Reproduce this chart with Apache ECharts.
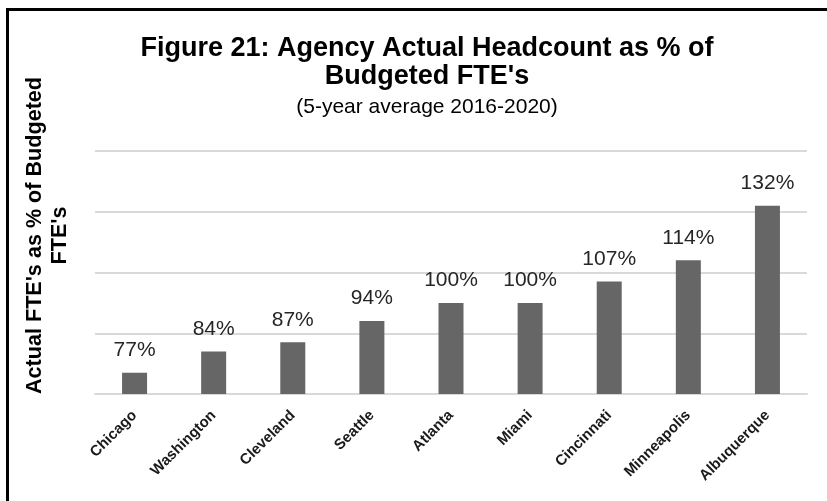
<!DOCTYPE html>
<html>
<head>
<meta charset="utf-8">
<script src="https://cdn.jsdelivr.net/npm/echarts@6/dist/echarts.min.js"></script>
<style>
  html, body { margin: 0; padding: 0; background: #fff; }
  #chart { width: 827px; height: 501px; }
</style>
</head>
<body>
<div id="chart"></div>
<script>
// Agencies and their 5-year average actual headcount as % of budgeted FTEs
const agencies = ['Chicago', 'Washington', 'Cleveland', 'Seattle', 'Atlanta', 'Miami', 'Cincinnati', 'Minneapolis', 'Albuquerque'];
const headcountPct = [77, 84, 87, 94, 100, 100, 107, 114, 132];

// Value axis range (gridlines every 20 points starting at 70)
const axisMin = 70;
const axisMax = 150;
const axisStep = 20;

const FONT = '"Liberation Sans", Arial, sans-serif';

const chart = echarts.init(document.getElementById('chart'), null, { renderer: 'canvas' });

chart.setOption({
  backgroundColor: '#ffffff',
  animation: false,
  title: {
    text: 'Figure 21: Agency Actual Headcount as % of\nBudgeted FTE\'s',
    subtext: '(5-year average 2016-2020)',
    left: 422,
    textAlign: 'center',
    top: 30,
    itemGap: 6,
    textStyle: {
      fontFamily: FONT,
      fontSize: 27,
      fontWeight: 'bold',
      color: '#000000',
      lineHeight: 28
    },
    subtextStyle: {
      fontFamily: FONT,
      fontSize: 21,
      color: '#000000',
      lineHeight: 21
    }
  },
  graphic: [{
    type: 'rect',
    silent: true,
    shape: { x: 7.5, y: 9.5, width: 900, height: 600 },
    style: { fill: 'none', stroke: '#000000', lineWidth: 3 }
  }],
  grid: {
    left: 95,
    right: 20,
    top: 151,
    bottom: 107,
    containLabel: false,
    outerBoundsMode: 'none'
  },
  xAxis: {
    type: 'category',
    data: agencies,
    axisLine: { show: true, lineStyle: { color: '#d9d9d9', width: 2 } },
    axisTick: { show: false },
    axisLabel: {
      rotate: 45,
      interval: 0,
      margin: 19,
      fontFamily: FONT,
      fontSize: 15,
      fontWeight: 'bold',
      color: '#1a1a1a'
    }
  },
  yAxis: {
    type: 'value',
    min: axisMin,
    max: axisMax,
    interval: axisStep,
    name: 'Actual FTE\'s as % of Budgeted\nFTE\'s',
    nameLocation: 'middle',
    nameRotate: 90,
    nameGap: 22,
    nameTextStyle: {
      fontFamily: FONT,
      fontSize: 21.6,
      fontWeight: 'bold',
      color: '#000000',
      lineHeight: 25,
      align: 'center',
      padding: [0, 0, 0, 74]
    },
    axisLine: { show: false },
    axisTick: { show: false },
    axisLabel: { show: false },
    splitLine: { show: true, lineStyle: { color: '#d9d9d9', width: 2 } }
  },
  series: [{
    type: 'bar',
    data: headcountPct,
    barWidth: 25,
    itemStyle: { color: '#666666' },
    label: {
      show: true,
      position: 'top',
      distance: 12,
      formatter: '{c}%',
      fontFamily: FONT,
      fontSize: 21,
      color: '#262626'
    }
  }]
});
</script>
</body>
</html>
